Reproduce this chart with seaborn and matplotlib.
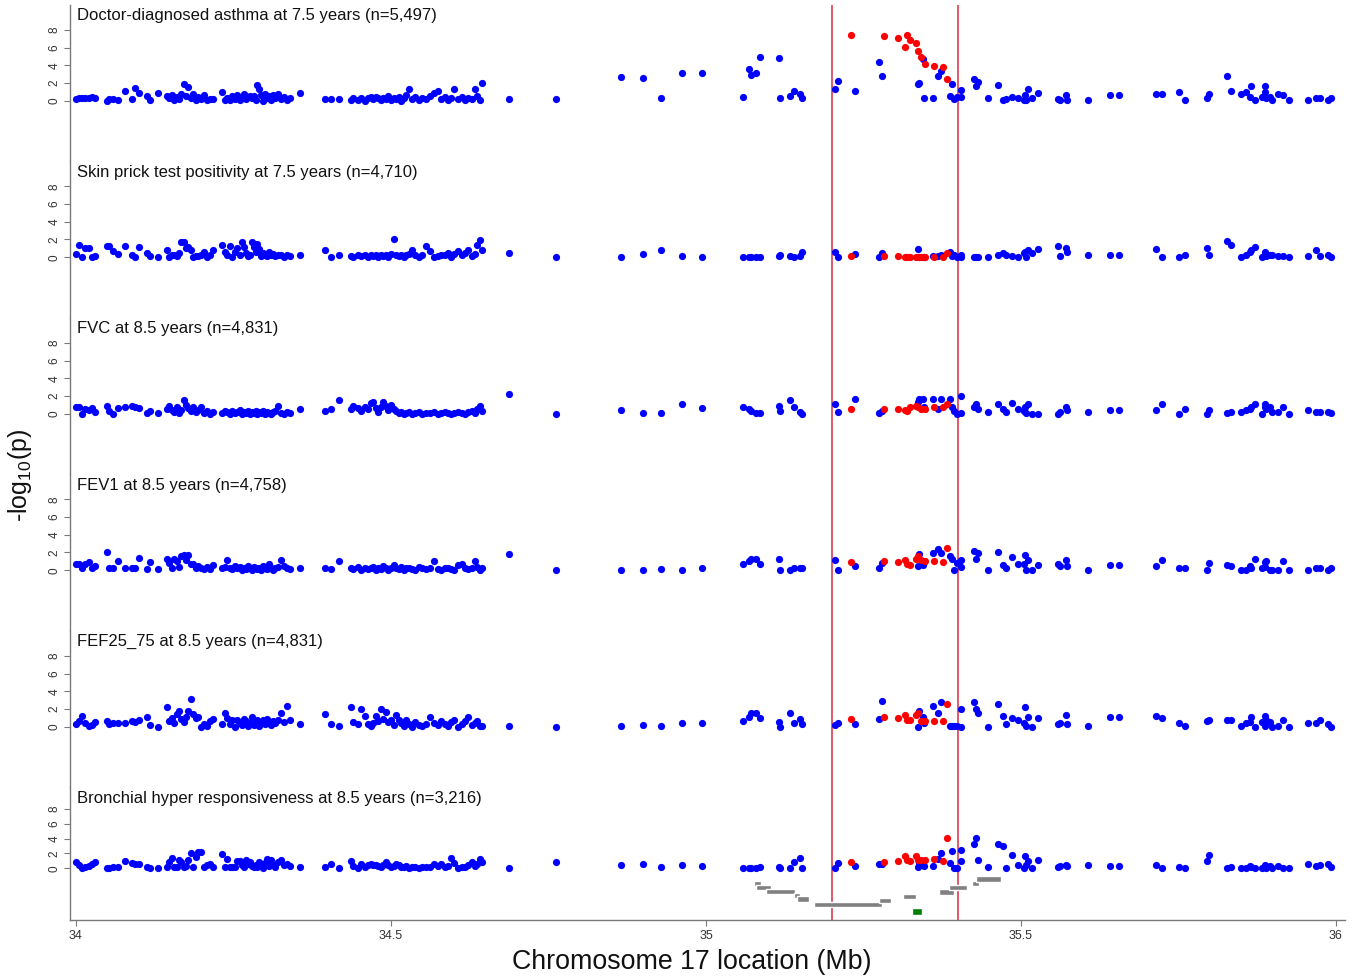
import matplotlib
matplotlib.use("Agg")
import matplotlib.pyplot as plt
import seaborn as sns

# ---------------- data ----------------
titles = [
    "Doctor-diagnosed asthma at 7.5 years (n=5,497)",
    "Skin prick test positivity at 7.5 years (n=4,710)",
    "FVC at 8.5 years (n=4,831)",
    "FEV1 at 8.5 years (n=4,758)",
    "FEF25_75 at 8.5 years (n=4,831)",
    "Bronchial hyper responsiveness at 8.5 years (n=3,216)",
]
y_ticks = [0, 2, 4, 6, 8]
x_ticks = [34, 34.5, 35, 35.5, 36]
x_tick_labels = ["34", "34.5", "35", "35.5", "36"]
region_bounds = [35.2, 35.4]

# SNP positions (Mb) by region
pos_a = [34.000, 34.005, 34.010, 34.015, 34.020, 34.025, 34.030,
         34.049, 34.053, 34.058, 34.067, 34.078, 34.089, 34.094, 34.100, 34.113, 34.117, 34.130,
         34.144, 34.148, 34.152, 34.156, 34.160, 34.163, 34.167, 34.171, 34.175, 34.178, 34.182, 34.186, 34.190, 34.194, 34.198, 34.203, 34.208, 34.213, 34.218,
         34.232, 34.236, 34.240, 34.244, 34.248, 34.252, 34.256, 34.260, 34.263, 34.266, 34.270, 34.273, 34.276, 34.279, 34.282, 34.285, 34.288, 34.291, 34.294, 34.297, 34.300, 34.303, 34.306, 34.309, 34.312, 34.316, 34.320, 34.325, 34.330, 34.335, 34.340,
         34.356]
pos_b = [34.395, 34.404, 34.417, 34.436, 34.440, 34.447, 34.452, 34.458, 34.463, 34.468,
         34.472, 34.476, 34.480, 34.484, 34.488, 34.492, 34.496, 34.500, 34.504, 34.508,
         34.512, 34.516, 34.520, 34.524, 34.528, 34.533, 34.538, 34.544, 34.550, 34.556,
         34.562, 34.568, 34.574, 34.579, 34.585, 34.590, 34.595, 34.600, 34.606, 34.612,
         34.617, 34.622, 34.628, 34.633, 34.637, 34.641, 34.645]
pos_c = [34.688, 34.762, 34.865, 34.900, 34.929, 34.962, 34.994, 35.059, 35.068, 35.072,
         35.079, 35.085, 35.116, 35.117, 35.134, 35.140, 35.149, 35.153]
pos_mid = [35.204, 35.209, 35.237, 35.274, 35.280, 35.337, 35.338, 35.344, 35.346, 35.361,
           35.368, 35.373, 35.388, 35.391, 35.393, 35.398, 35.404, 35.405]
pos_right = [35.425, 35.429, 35.432, 35.447, 35.464, 35.471, 35.476, 35.486, 35.496, 35.504,
             35.506, 35.508, 35.511, 35.518, 35.527, 35.558, 35.562, 35.571, 35.573, 35.606,
             35.642, 35.656, 35.714, 35.724, 35.751, 35.760, 35.795, 35.799, 35.827, 35.834,
             35.850, 35.857, 35.864, 35.865, 35.871, 35.882, 35.887, 35.888, 35.889, 35.895,
             35.899, 35.908, 35.916, 35.925, 35.956, 35.968, 35.975, 35.988, 35.992]
pos_red = [35.230, 35.283, 35.305, 35.316, 35.319, 35.324, 35.334, 35.336, 35.342, 35.348,
           35.362, 35.376, 35.383]

# -log10(p) values, panel 1: asthma
p1_a = [0.20, 0.25, 0.25, 0.30, 0.35, 0.45, 0.30,
        0.00, 0.15, 0.20, 0.10, 1.10, 0.20, 1.40, 0.90, 0.55, 0.05, 0.90,
        0.50, 0.30, 0.60, 0.10, 0.40, 0.20, 0.70, 1.90, 0.50, 1.50, 0.30, 0.80, 0.10, 0.40, 0.20, 0.60, 0.10, 0.20, 0.20,
        1.00, 0.10, 0.30, 0.05, 0.50, 0.20, 0.60, 0.10, 0.30, 0.70, 0.20, 0.40, 0.50, 0.30, 0.50, 0.10, 1.80, 1.30, 0.60, 0.00, 0.80, 0.30, 0.50, 0.10, 0.60, 0.30, 0.70, 0.20, 0.40, 0.10, 0.30,
        0.90]
p1_b = [0.20, 0.20, 0.20, 0.05, 0.30, 0.10, 0.25, 0.00, 0.30, 0.40,
        0.20, 0.45, 0.30, 0.10, 0.35, 0.20, 0.50, 0.10, 0.30, 0.20,
        0.40, 0.00, 0.30, 0.60, 1.30, 0.20, 0.40, 0.10, 0.30, 0.20,
        0.50, 0.90, 1.10, 0.20, 0.40, 0.10, 0.30, 1.30, 0.20, 0.40,
        0.10, 0.30, 0.20, 1.30, 0.50, 0.10, 2.00]
p1_c = [0.15, 0.20, 2.70, 2.55, 0.35, 3.10, 3.10, 0.45, 3.60, 2.90, 3.15, 4.90, 4.85, 0.30, 0.55, 1.10, 0.80, 0.25]
p1_mid = [1.30, 2.20, 1.15, 4.35, 2.75, 1.85, 2.00, 4.70, 0.35, 0.35, 2.80, 3.30, 0.55, 1.85, 0.20, 0.45, 1.20, 0.45]
p1_right = [2.40, 1.70, 2.10, 0.25, 1.75, 0.10, 0.15, 0.45, 0.30, 0.10,
            0.60, 0.10, 1.30, 0.25, 0.85, 0.15, 0.10, 0.65, 0.10, 0.05,
            0.60, 0.60, 0.80, 0.80, 0.95, 0.05, 0.25, 0.80, 2.80, 1.10,
            0.80, 0.95, 0.42, 1.65, 0.05, 0.42, 1.65, 0.95, 0.25, 0.42,
            0.05, 0.80, 0.60, 0.05, 0.05, 0.30, 0.30, 0.10, 0.30]
p1_red = [7.40, 7.30, 7.10, 6.10, 7.40, 6.90, 6.55, 5.60, 4.95, 4.10, 3.95, 3.80, 2.45]

# panel 2: skin prick test
p2_a = [0.40, 1.40, 0.00, 1.00, 1.00, 0.00, 0.10,
        1.30, 1.30, 0.70, 0.40, 1.30, 0.20, 0.00, 1.20, 0.50, 0.10, 0.00,
        0.80, 0.00, 0.30, 0.30, 0.10, 0.50, 1.70, 1.70, 1.00, 1.20, 0.80, 0.00, 0.10, 0.10, 0.30, 0.60, 0.00, 0.20, 0.80,
        1.35, 0.60, 0.30, 1.30, 0.00, 0.60, 1.00, 0.20, 1.70, 1.10, 0.50, 0.10, 0.20, 1.70, 1.10, 0.60, 1.50, 0.90, 0.10, 0.50, 0.30, 0.10, 0.60, 0.20, 0.40, 0.10, 0.30, 0.20, 0.00, 0.20, 0.10,
        0.30]
p2_b = [0.80, 0.00, 0.20, 0.10, 0.00, 0.20, 0.10, 0.30, 0.00, 0.20,
        0.10, 0.30, 0.00, 0.20, 0.10, 0.30, 0.00, 0.40, 2.10, 0.20,
        0.10, 0.30, 0.00, 0.20, 0.40, 0.80, 0.20, 0.00, 0.30, 1.30,
        0.70, 0.00, 0.10, 0.30, 0.20, 0.50, 0.00, 0.40, 0.70, 0.20,
        0.50, 0.80, 0.10, 0.40, 1.40, 1.90, 0.80]
p2_c = [0.50, 0.00, 0.00, 0.40, 0.80, 0.10, 0.05, 0.00, 0.05, 0.05, 0.05, 0.05, 0.10, 0.20, 0.10, 0.05, 0.10, 0.60]
p2_mid = [0.60, 0.00, 0.35, 0.05, 0.45, 0.90, 0.05, 0.05, 0.00, 0.10, 0.10, 0.20, 0.60, 0.10, 0.20, 0.05, 0.00, 0.30]
p2_right = [0.05, 0.00, 0.05, 0.00, 0.20, 0.45, 0.20, 0.10, 0.05, 0.45,
            0.60, 0.05, 0.80, 0.45, 0.90, 1.30, 0.10, 1.05, 0.60, 0.30,
            0.30, 0.30, 0.90, 0.05, 0.05, 0.30, 1.05, 0.30, 1.80, 1.40,
            0.05, 0.20, 0.60, 0.80, 1.10, 0.05, 0.30, 0.60, 0.10, 0.30,
            0.20, 0.10, 0.10, 0.05, 0.10, 0.80, 0.10, 0.20, 0.05]
p2_red = [0.10, 0.10, 0.10, 0.05, 0.05, 0.05, 0.00, 0.00, 0.05, 0.00, 0.00, 0.05, 0.50]

# panel 3: FVC
p3_a = [0.70, 0.80, 0.00, 0.50, 0.40, 0.60, 0.20,
        0.90, 0.30, 0.00, 0.60, 0.70, 0.90, 0.70, 0.60, 0.10, 0.30, 0.10,
        0.50, 0.90, 0.40, 0.20, 0.70, 0.10, 0.40, 1.55, 1.00, 0.60, 0.30, 0.70, 0.20, 0.40, 0.80, 0.10, 0.30, 0.00, 0.20,
        0.10, 0.30, 0.20, 0.00, 0.30, 0.10, 0.20, 0.40, 0.00, 0.20, 0.10, 0.30, 0.00, 0.20, 0.10, 0.30, 0.00, 0.20, 0.10, 0.30, 0.00, 0.20, 0.10, 0.00, 0.20, 0.30, 0.90, 0.10, 0.00, 0.20, 0.10,
        0.55]
p3_b = [0.30, 0.50, 1.60, 0.50, 0.90, 0.60, 0.30, 0.80, 0.50, 1.20,
        1.30, 0.60, 0.20, 0.70, 1.30, 0.90, 0.40, 1.00, 0.50, 0.30,
        0.10, 0.20, 0.00, 0.10, 0.20, 0.00, 0.10, 0.20, 0.00, 0.10,
        0.10, 0.20, 0.00, 0.10, 0.20, 0.10, 0.00, 0.10, 0.20, 0.10,
        0.00, 0.20, 0.30, 0.10, 0.50, 0.90, 0.30]
p3_c = [2.20, 0.00, 0.40, 0.10, 0.05, 1.10, 0.65, 0.80, 0.50, 0.30, 0.10, 0.10, 0.90, 0.30, 1.50, 0.70, 0.20, 0.00]
p3_mid = [1.05, 0.20, 1.65, 0.10, 0.30, 1.30, 1.65, 1.65, 0.70, 1.65, 0.50, 1.70, 1.65, 0.80, 0.30, 0.00, 1.95, 0.10]
p3_right = [0.70, 1.05, 0.50, 0.20, 1.05, 0.50, 0.20, 1.20, 0.50, 0.30,
            0.70, 0.10, 1.05, 0.00, 0.00, 0.00, 0.20, 0.80, 0.40, 0.20,
            0.40, 0.40, 0.40, 1.05, 0.00, 0.50, 0.00, 0.40, 0.10, 0.20,
            0.20, 0.40, 0.50, 0.70, 1.05, 0.00, 0.70, 1.05, 0.50, 0.80,
            0.20, 0.20, 0.70, 0.00, 0.40, 0.20, 0.20, 0.20, 0.10]
p3_red = [0.50, 0.50, 0.50, 0.40, 0.30, 0.80, 0.90, 0.75, 0.50, 0.50, 0.70, 0.75, 1.05]

# panel 4: FEV1
p4_a = [0.75, 0.75, 0.20, 0.70, 0.90, 0.20, 0.50,
        2.05, 0.20, 0.30, 1.00, 0.30, 0.30, 0.20, 1.40, 0.10, 0.90, 0.10,
        1.25, 0.80, 0.30, 1.25, 1.00, 0.40, 1.60, 1.70, 1.10, 1.70, 0.70, 0.70, 0.20, 0.50, 0.30, 0.10, 0.40, 0.10, 0.60,
        0.20, 0.40, 1.10, 0.30, 0.10, 0.50, 0.20, 0.40, 0.00, 0.30, 0.10, 0.50, 0.20, 0.00, 0.40, 0.20, 0.10, 0.30, 0.00, 0.50, 0.20, 0.10, 0.70, 0.30, 0.00, 0.20, 0.40, 1.10, 0.50, 0.20, 0.10,
        0.25]
p4_b = [0.30, 0.10, 1.00, 0.30, 0.10, 0.40, 0.00, 0.30, 0.10, 0.20,
        0.40, 0.00, 0.30, 0.10, 0.50, 0.20, 0.00, 0.30, 0.60, 0.20,
        0.10, 0.40, 0.00, 0.20, 0.30, 0.10, 0.00, 0.40, 0.20, 0.10,
        0.30, 1.00, 0.10, 0.00, 0.20, 0.30, 0.10, 0.00, 0.60, 0.75,
        0.20, 0.10, 0.30, 1.00, 0.40, 0.00, 0.20]
p4_c = [1.85, 0.00, 0.05, 0.05, 0.10, 0.05, 0.25, 0.75, 1.05, 1.30, 1.30, 0.75, 1.30, 0.00, 0.00, 0.20, 0.20, 0.20]
p4_mid = [1.20, 0.00, 0.45, 0.20, 0.80, 0.45, 1.80, 0.55, 0.90, 1.95, 2.45, 1.90, 1.55, 1.30, 0.05, 0.80, 1.10, 0.35]
p4_right = [2.20, 1.30, 1.90, 0.00, 2.00, 0.55, 0.20, 1.45, 0.75, 0.70,
            1.70, 0.05, 1.20, 0.05, 0.55, 0.75, 0.45, 1.10, 0.45, 0.00,
            0.55, 0.55, 0.45, 1.10, 0.30, 0.30, 0.00, 0.80, 0.55, 0.45,
            0.05, 0.05, 0.45, 0.20, 1.30, 0.20, 0.95, 0.35, 1.05, 0.05,
            0.05, 0.05, 1.05, 0.05, 0.05, 0.20, 0.30, 0.05, 0.30]
p4_red = [0.95, 1.05, 0.95, 1.10, 0.70, 0.55, 1.30, 1.55, 1.20, 1.05, 1.05, 0.90, 2.55]

# panel 5: FEF25_75
p5_a = [0.30, 0.60, 1.25, 0.40, 0.10, 0.20, 0.50,
        0.60, 0.30, 0.40, 0.40, 0.40, 0.60, 0.50, 0.70, 1.05, 0.20, 0.00,
        2.20, 0.60, 1.00, 0.40, 1.40, 1.80, 0.90, 0.50, 1.10, 1.80, 3.10, 1.40, 1.00, 1.10, 0.00, 0.30, 0.10, 0.60, 0.90,
        0.30, 1.60, 1.00, 0.30, 0.80, 0.00, 0.80, 0.40, 0.20, 0.90, 0.60, 0.10, 0.40, 1.10, 0.20, 0.50, 0.80, 0.10, 0.40, 0.70, 0.30, 0.90, 0.50, 0.20, 0.60, 0.40, 0.80, 1.60, 0.50, 2.30, 0.70,
        0.30]
p5_b = [1.40, 0.30, 0.05, 2.20, 0.50, 0.30, 2.00, 1.20, 0.30, 0.10,
        0.40, 1.20, 0.60, 2.00, 0.90, 1.70, 0.50, 0.80, 0.20, 1.30,
        0.70, 0.40, 0.10, 0.80, 0.30, 0.00, 0.50, 0.20, 0.10, 0.30,
        1.05, 0.40, 0.20, 0.60, 0.30, 0.10, 0.50, 0.80, 0.00, 0.30,
        0.60, 1.05, 0.20, 0.40, 0.60, 0.10, 0.05]
p5_c = [0.10, 0.00, 0.05, 0.20, 0.05, 0.40, 0.45, 0.60, 1.15, 1.50, 1.50, 1.00, 0.50, 0.00, 1.60, 0.40, 0.85, 0.30]
p5_mid = [0.20, 0.40, 0.30, 0.85, 2.85, 0.00, 1.80, 1.05, 0.40, 2.30, 1.60, 2.75, 0.10, 0.10, 0.10, 0.10, 2.00, 0.00]
p5_right = [2.75, 2.00, 1.60, 0.00, 2.55, 1.25, 0.30, 1.00, 0.75, 0.40,
            2.25, 0.10, 1.05, 0.00, 1.00, 0.30, 0.40, 1.35, 0.30, 0.10,
            1.05, 1.05, 1.25, 0.95, 0.40, 0.10, 0.60, 0.75, 0.75, 0.70,
            0.10, 0.40, 0.50, 1.05, 0.00, 0.50, 1.25, 0.10, 0.75, 0.50,
            0.00, 0.10, 0.75, 0.00, 0.40, 0.40, 0.70, 0.30, 0.00]
p5_red = [0.85, 1.05, 1.00, 1.35, 0.70, 0.70, 1.35, 1.60, 0.60, 0.60, 0.60, 0.60, 2.55]

# panel 6: bronchial hyper responsiveness
p6_a = [0.90, 0.50, 0.00, 0.15, 0.30, 0.60, 0.90,
        0.10, 0.10, 0.15, 0.15, 1.00, 0.70, 0.60, 0.60, 0.15, 0.10, 0.10,
        0.15, 0.90, 1.35, 0.15, 0.15, 1.10, 0.90, 0.15, 0.30, 1.10, 2.00, 0.15, 1.50, 2.25, 2.25, 0.15, 0.40, 0.60, 0.15,
        1.95, 0.15, 1.20, 0.15, 0.15, 0.15, 1.00, 1.00, 0.40, 0.15, 1.10, 0.60, 0.80, 0.30, 0.15, 0.50, 0.20, 0.90, 0.40, 0.10, 0.70, 1.20, 0.30, 1.10, 0.50, 0.20, 0.80, 1.10, 0.40, 0.60, 0.30,
        0.20]
p6_b = [0.15, 0.60, 0.00, 1.00, 0.30, 0.00, 0.60, 0.15, 0.40, 0.60,
        0.50, 0.40, 0.30, 0.15, 0.50, 0.90, 0.40, 0.15, 0.30, 0.60,
        0.50, 0.20, 0.15, 0.30, 0.10, 0.15, 0.20, 0.05, 0.15, 0.15,
        0.15, 0.60, 0.30, 0.60, 0.15, 0.30, 1.35, 0.70, 0.00, 0.15,
        0.20, 0.40, 0.90, 0.30, 0.60, 1.20, 0.90]
p6_c = [0.10, 0.85, 0.40, 0.60, 0.20, 0.50, 0.35, 0.00, 0.05, 0.05, 0.10, 0.15, 0.15, 0.00, 0.00, 0.90, 1.40, 0.10]
p6_mid = [0.10, 0.65, 0.30, 0.55, 0.55, 0.15, 0.65, 0.40, 0.30, 0.30, 1.20, 2.05, 0.70, 2.30, 0.00, 0.05, 2.50, 1.00]
p6_right = [3.30, 4.10, 1.10, 0.15, 3.30, 3.00, 0.05, 1.85, 0.50, 0.00,
            1.60, 0.45, 0.95, 0.00, 1.10, 0.15, 0.30, 0.50, 0.30, 0.40,
            0.30, 0.30, 0.50, 0.10, 0.20, 0.10, 1.00, 1.80, 0.10, 0.20,
            0.00, 0.10, 0.30, 0.20, 0.10, 0.00, 0.40, 0.20, 0.10, 0.30,
            0.00, 0.30, 0.10, 0.00, 0.60, 0.30, 0.50, 0.60, 0.20]
p6_red = [0.80, 0.90, 0.95, 1.60, 1.15, 0.95, 1.60, 1.10, 1.15, 1.15, 1.20, 0.95, 4.10]

# gene track (Mb start / end, track level in bottom panel units)
gene_start = [35.077, 35.079, 35.096, 35.139, 35.144, 35.172, 35.274, 35.312, 35.370, 35.386, 35.423, 35.429]
gene_end = [35.087, 35.103, 35.142, 35.150, 35.163, 35.280, 35.293, 35.334, 35.393, 35.414, 35.433, 35.469]
gene_track = [-2.1, -2.6, -3.1, -3.7, -4.15, -4.95, -4.4, -3.8, -3.2, -2.6, -2.1, -1.45]
mark_start = [35.327]
mark_end = [35.343]
mark_track = [-5.85]

panel_blue = [
    (p1_a, p1_b, p1_c, p1_mid, p1_right),
    (p2_a, p2_b, p2_c, p2_mid, p2_right),
    (p3_a, p3_b, p3_c, p3_mid, p3_right),
    (p4_a, p4_b, p4_c, p4_mid, p4_right),
    (p5_a, p5_b, p5_c, p5_mid, p5_right),
    (p6_a, p6_b, p6_c, p6_mid, p6_right),
]
panel_red = [p1_red, p2_red, p3_red, p4_red, p5_red, p6_red]
region_pos = (pos_a, pos_b, pos_c, pos_mid, pos_right)

# ---------------- style ----------------
sns.set_theme(style="white")
plt.rcParams["font.family"] = ["Liberation Sans", "DejaVu Sans"]
plt.rcParams["mathtext.fontset"] = "custom"
plt.rcParams["mathtext.rm"] = "Liberation Sans"
plt.rcParams["mathtext.it"] = "Liberation Sans:italic"

W, H = 1358, 980
fig = plt.figure(figsize=(W / 100, H / 100), dpi=100)
gs = fig.add_gridspec(6, 1, height_ratios=[156.5] * 5 + [132.5],
                      left=70 / W, right=1345 / W, top=1 - 5 / H, bottom=1 - 920 / H,
                      hspace=0)

spine_col = "#7a7a7a"
axes = []
for i in range(6):
    ax = fig.add_subplot(gs[i])
    axes.append(ax)
    bx, by = [], []
    for pos, vals in zip(region_pos, panel_blue[i]):
        assert len(pos) == len(vals), (i, len(pos), len(vals))
        bx += pos
        by += vals
    assert len(pos_red) == len(panel_red[i])
    sns.scatterplot(x=bx, y=by, color="#0000ff", s=27, linewidth=0, ax=ax, zorder=3)
    sns.scatterplot(x=pos_red, y=panel_red[i], color="#ff0000", s=27, linewidth=0, ax=ax, zorder=4)
    for xb in region_bounds:
        ax.axvline(xb, color="#dc3c52", lw=1.2, zorder=2)

    ax.set_xlim(33.9905, 36.0143)
    if i < 5:
        ax.set_ylim(-6.87, 10.81)
    else:
        ax.set_ylim(-6.99, 10.92)
    ax.set_yticks(y_ticks)
    ax.set_yticklabels([str(t) for t in y_ticks])
    ax.tick_params(axis="y", left=True, length=4, width=0.8, color=spine_col,
                   labelsize=8.5, labelcolor="#333333", pad=3, labelrotation=90)
    for lab in ax.get_yticklabels():
        lab.set_va("center")
    for side in ["top", "right", "bottom"]:
        ax.spines[side].set_visible(False)
    ax.spines["left"].set_color(spine_col)
    ax.spines["left"].set_linewidth(1.0)
    ax.set_xlabel("")
    ax.set_ylabel("")
    ax.text(34.001, 9.6 if i < 5 else 9.5, titles[i], ha="left", va="center",
            fontsize=12, color="#111111")
    if i < 5:
        ax.tick_params(axis="x", bottom=False, labelbottom=False)
    else:
        ax.spines["bottom"].set_visible(True)
        ax.spines["bottom"].set_color(spine_col)
        ax.spines["bottom"].set_linewidth(1.0)
        ax.set_xticks(x_ticks)
        ax.set_xticklabels(x_tick_labels)
        ax.tick_params(axis="x", bottom=True, length=4, width=0.8, color=spine_col,
                       labelsize=9, labelcolor="#333333", pad=3)
        widths = [e - s for s, e in zip(gene_start, gene_end)]
        ax.barh(gene_track, widths, left=gene_start, height=0.7, color="#808080", zorder=2)
        mwidths = [e - s for s, e in zip(mark_start, mark_end)]
        ax.barh(mark_track, mwidths, left=mark_start, height=0.85, color="#007f00", zorder=2)

fig.text(692 / W, 1 - 962 / H, "Chromosome 17 location (Mb)", ha="center", va="center",
         fontsize=19.3, color="#111111")
fig.text(20 / W, 1 - 475 / H, r"-log$_{\mathregular{10}}$(p)", ha="center", va="center",
         rotation=90, fontsize=18, color="#111111")

fig.savefig("out.png", dpi=100, facecolor="white")
